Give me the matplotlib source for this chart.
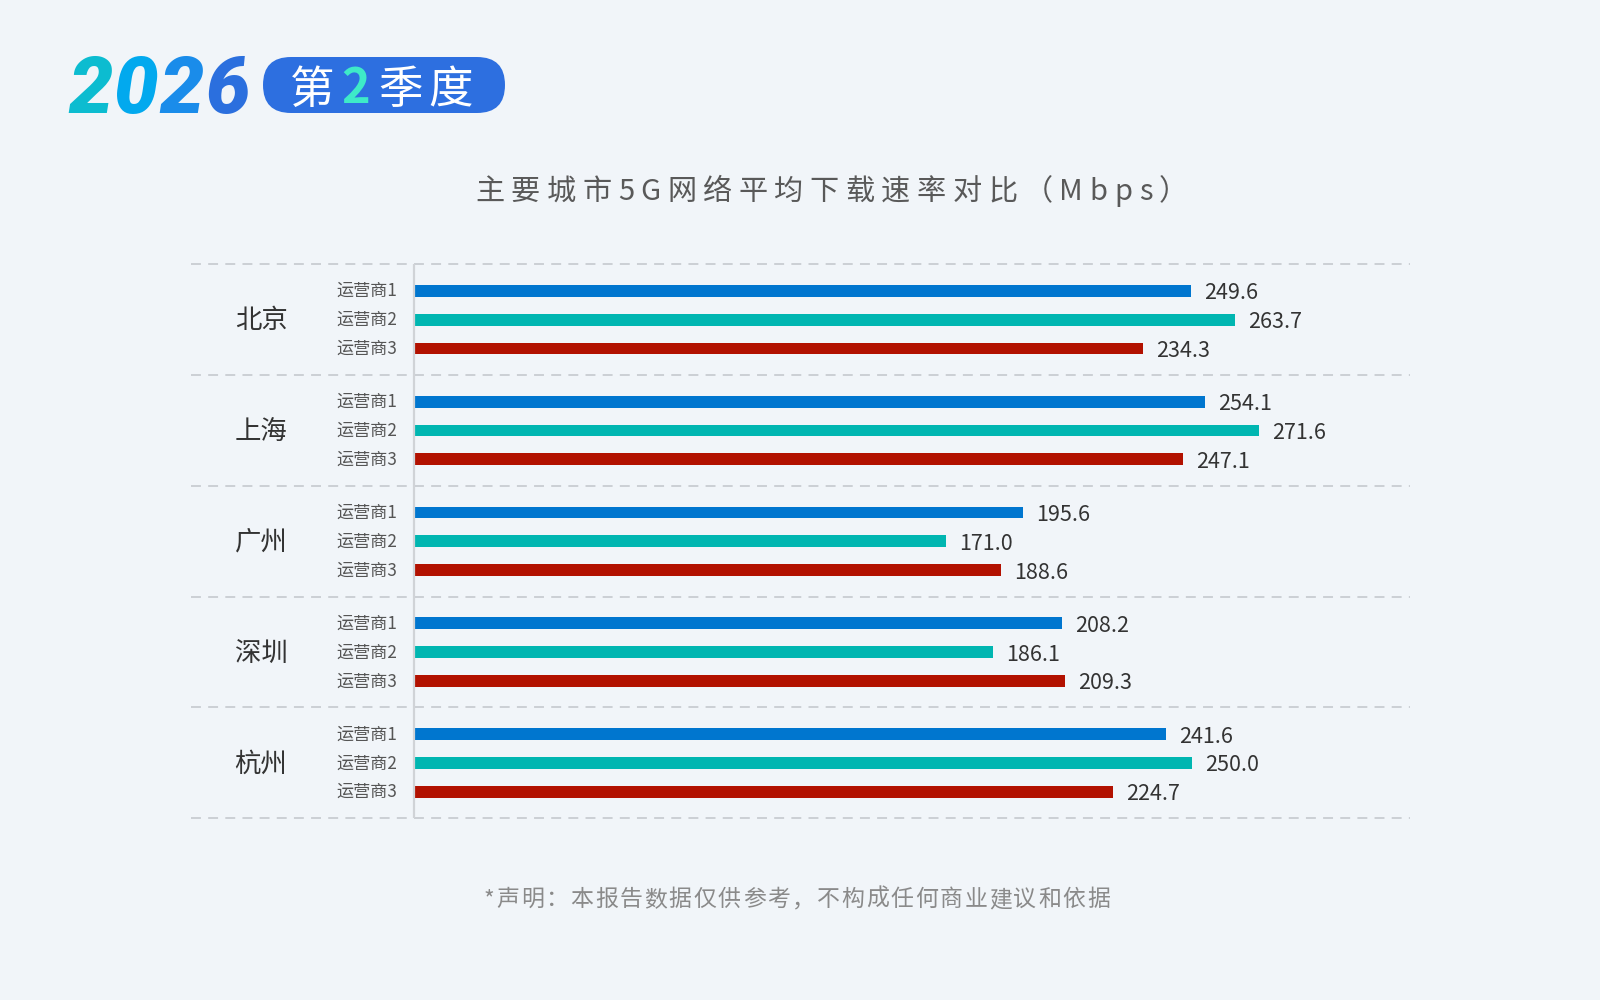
import matplotlib
matplotlib.use("Agg")
import matplotlib.pyplot as plt
from matplotlib.patches import FancyBboxPatch
from matplotlib.font_manager import FontProperties, findfont
from matplotlib.ft2font import FT2Font
import numpy as np

plt.rcParams['font.family'] = ['Noto Sans CJK SC', 'DejaVu Sans']

# ---------------- data ----------------
cities = ['北京', '上海', '广州', '深圳', '杭州']
operators = ['运营商1', '运营商2', '运营商3']
op1 = [249.6, 254.1, 195.6, 208.2, 241.6]
op2 = [263.7, 271.6, 171.0, 186.1, 250.0]
op3 = [234.3, 247.1, 188.6, 209.3, 224.7]
series = [op1, op2, op3]
colors = ['#0076cf', '#00b6b1', '#b21100']

title = '主要城市5G网络平均下载速率对比（Mbps）'
footer = '*声明：本报告数据仅供参考，不构成任何商业建议和依据'
year_text = '2026'
year_colors = ['#0cbcd0', '#02a9ee', '#1a8cea', '#2b6fde']
quarter_chars = ['第', '2', '季', '度']
quarter_colors = ['#ffffff', '#3eeac8', '#ffffff', '#ffffff']

DPI = 100
W, H = 1600, 1000
BG = '#f1f5f9'

fig = plt.figure(figsize=(W / DPI, H / DPI), dpi=DPI, facecolor=BG)

# overlay axes in pixel coordinates for decorations
bg = fig.add_axes([0, 0, 1, 1])
bg.set_xlim(0, W)
bg.set_ylim(H, 0)
bg.axis('off')


def spaced(ax, x, y, s, size, spacing, color, weight='normal',
           family='Noto Sans CJK SC', style='normal', char_colors=None):
    """Draw a string character by character with extra letter spacing."""
    prop = FontProperties(family=family, weight=weight, style=style, size=size)
    try:
        f = FT2Font(findfont(prop), hinting_factor=1)
    except TypeError:
        f = FT2Font(findfont(prop), 1)
    f.set_size(size, DPI)
    advs = [f.load_char(ord(c)).linearHoriAdvance / 65536.0 for c in s]
    pen = x
    for i, c in enumerate(s):
        col = char_colors[i] if char_colors else color
        ax.text(pen, y, c, fontproperties=prop, color=col,
                ha='left', va='baseline')
        pen += advs[i] + spacing


# ---- header: 2026 ----
spaced(bg, 68, 113, year_text, 57, 1.5, None, weight='black', family='Roboto',
       style='italic', char_colors=year_colors)

# ---- pill ----
pill = FancyBboxPatch((263, 57), 242, 56,
                      boxstyle='round,pad=0,rounding_size=28',
                      facecolor='#2d6fe0', edgecolor='none')
bg.add_patch(pill)
q_centers = [312.5, 355.5, 401, 451]
q_sizes = [32, 35, 32, 32]
q_weights = ['medium', 'bold', 'medium', 'medium']
for cx, ch, col, sz, wt in zip(q_centers, quarter_chars, quarter_colors, q_sizes, q_weights):
    bg.text(cx, 103, ch, fontsize=sz, fontweight=wt, color=col,
            ha='center', va='baseline')

# ---- title ----
spaced(bg, 475, 200, title, 21, 6.5, '#595959')

# ---- footer ----
spaced(bg, 484, 906, footer, 16.5, 1.7, '#8a8a8a')

# ---------------- main chart ----------------
left_px, right_px, top_px, bot_px = 414, 1410, 264.3, 818.3
ax = fig.add_axes([left_px / W, 1 - bot_px / H,
                   (right_px - left_px) / W, (bot_px - top_px) / H])
ax.set_facecolor('none')
ax.set_xlim(0, 320)
ax.set_ylim(len(cities) - 0.5, -0.5)
ax.axis('off')

offsets = [-0.26, 0.0, 0.26]
bar_h = 0.108
n = len(cities)
base = np.arange(n)
for k, (vals, col) in enumerate(zip(series, colors)):
    ys = base + offsets[k]
    ax.barh(ys, vals, height=bar_h, color=col, zorder=2)
    for yv, v in zip(ys, vals):
        ax.annotate(f'{v:.1f}', (v, yv), xytext=(13, 0), textcoords='offset pixels',
                    ha='left', va='center_baseline', fontsize=15.5, color='#333333')
        ax.text(-17 / (right_px - left_px), yv - 0.015, operators[k],
                transform=ax.get_yaxis_transform(), ha='right',
                va='center_baseline', fontsize=12.3, color='#555555')

for i, c in enumerate(cities):
    ax.text((261 - left_px) / (right_px - left_px), i + 0.01, c,
            transform=ax.get_yaxis_transform(), ha='center', va='center',
            fontsize=19, color='#333333')

# dashed separators
dash_left = (191 - left_px) / (right_px - left_px)
for yb in np.arange(-0.5, n, 1.0):
    ax.hlines(yb, dash_left, 1.0, transform=ax.get_yaxis_transform(),
              colors='#c9cdd2', linestyles=(0, (5.5, 4)), linewidth=1.3,
              clip_on=False, zorder=1)

# vertical axis line
ax.plot([0, 0], [-0.5, n - 0.5], color='#d0d3d7', linewidth=1.6, zorder=3,
        clip_on=False, solid_capstyle='butt')

fig.savefig('out.png', dpi=DPI, facecolor=BG)
